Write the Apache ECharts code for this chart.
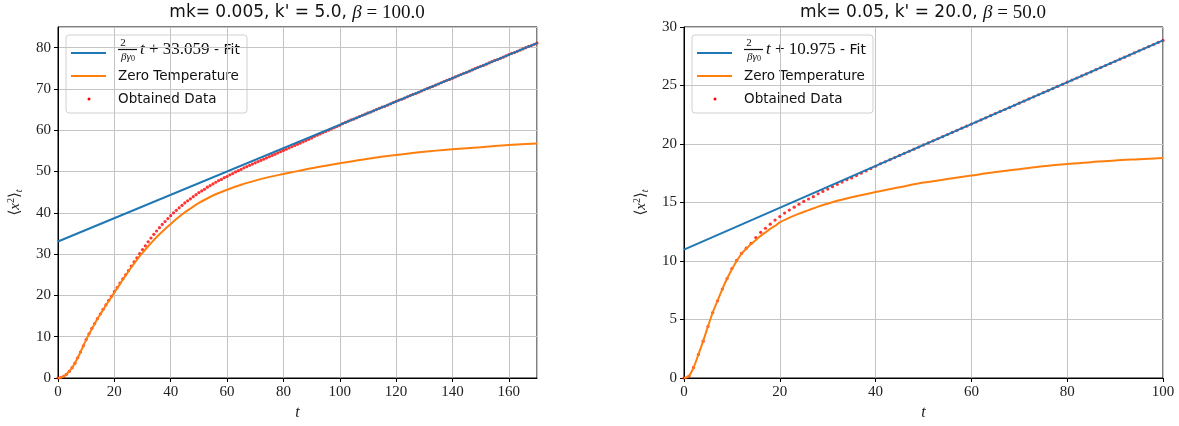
<!DOCTYPE html>
<html>
<head>
    <meta charset="utf-8">
    <title>x2 fits</title>
    <script src="https://cdn.jsdelivr.net/npm/echarts@6/dist/echarts.min.js"></script>
</head>
<body style="margin:0;background:#fff;">
    <div id="main" style="width:1179px;height:426px;"></div>
    <script type="text/javascript">
    // left panel: mk=0.005, k'=5.0, beta=100
    var fitLeftT = [0, 170];
    var fitLeftY = [33.059, 81.1];
    var zeroLeftT = [0, 1, 2, 3, 4, 5, 6, 7, 8, 9, 10, 11, 12, 13, 14, 15, 16, 17, 18, 19, 20,
        21, 22, 23, 24, 25, 26, 27, 28, 29, 30, 32, 34, 36, 38, 40, 42, 44, 46, 48, 50,
        55, 60, 65, 70, 75, 80, 85, 90, 95, 100, 110, 120, 130, 140, 150, 160, 170];
    var zeroLeftY = [0, 0.1, 0.4, 0.9, 1.6, 2.5, 3.6, 4.9, 6.3, 7.8, 9.3, 10.6, 11.9, 13.1, 14.3, 15.4, 16.5, 17.6, 18.6, 19.7, 20.7,
        21.7, 22.8, 23.8, 24.8, 25.8, 26.8, 27.7, 28.6, 29.5, 30.3, 31.9, 33.4, 34.8, 36.1, 37.3, 38.5, 39.6, 40.6, 41.5, 42.4,
        44.2, 45.6, 46.8, 47.8, 48.7, 49.4, 50.1, 50.8, 51.4, 52.0, 53.1, 54.0, 54.8, 55.4, 55.9, 56.4, 56.8];
    // obtained data, one point per unit of t starting at t=0
    var obsLeftY = [0, 0.1, 0.4, 0.9, 1.6, 2.5, 3.6, 4.9, 6.3, 7.8, 9.3, 10.7, 12.0, 13.2, 14.4, 15.5, 16.6, 17.7, 18.8, 19.8,
        20.9, 21.9, 23.0, 24.0, 25.0, 26.0, 27.1, 28.1, 29.1, 30.1, 31.1, 32.0, 33.0, 33.9, 34.8, 35.6, 36.4, 37.2, 37.9, 38.6,
        39.3, 40.0, 40.6, 41.2, 41.8, 42.4, 42.9, 43.4, 43.9, 44.4, 44.9, 45.3, 45.7, 46.2, 46.6, 47.0, 47.4, 47.8, 48.1, 48.5,
        48.8, 49.2, 49.5, 49.9, 50.2, 50.5, 50.9, 51.2, 51.5, 51.8, 52.1, 52.4, 52.7, 53.0, 53.3, 53.6, 53.9, 54.2, 54.5, 54.8,
        55.1, 55.4, 55.7, 56.0, 56.3, 56.6, 56.9, 57.2, 57.5, 57.8, 58.1, 58.5, 58.8, 59.1, 59.4, 59.7, 60.0, 60.3, 60.6, 60.9,
        61.2, 61.6, 61.9, 62.2, 62.5, 62.7, 63.0, 63.3, 63.6, 63.9, 64.2, 64.4, 64.7, 65.0, 65.3, 65.6, 65.8, 66.1, 66.4, 66.7,
        67.0, 67.3, 67.5, 67.8, 68.1, 68.4, 68.7, 68.9, 69.2, 69.5, 69.8, 70.1, 70.4, 70.6, 70.9, 71.2, 71.5, 71.8, 72.1, 72.3,
        72.6, 72.9, 73.2, 73.5, 73.8, 74.0, 74.3, 74.6, 74.9, 75.2, 75.5, 75.7, 76.0, 76.3, 76.6, 76.9, 77.1, 77.4, 77.7, 78.0,
        78.3, 78.6, 78.8, 79.1, 79.4, 79.7, 80.0, 80.3, 80.5, 80.8, 81.1];

    // right panel: mk=0.05, k'=20.0, beta=50
    var fitRightT = [0, 100];
    var fitRightY = [10.975, 28.85];
    var zeroRightT = [0, 1, 2, 3, 4, 5, 6, 7, 8, 9, 10, 11, 12, 13, 14, 15, 16, 17, 18, 19, 20,
        22, 24, 26, 28, 30, 32, 35, 40, 45, 50, 55, 60, 65, 70, 75, 80, 85, 90, 95, 100];
    var zeroRightY = [0, 0.15, 0.9, 2.0, 3.15, 4.4, 5.6, 6.6, 7.6, 8.5, 9.3, 10.0, 10.6, 11.05, 11.45, 11.8, 12.15, 12.45, 12.75, 13.0, 13.3,
        13.7, 14.05, 14.35, 14.65, 14.9, 15.15, 15.45, 15.9, 16.3, 16.7, 17.0, 17.3, 17.6, 17.85, 18.1, 18.3, 18.45, 18.6, 18.7, 18.8];
    var obsRightY = [0, 0.15, 0.9, 2.0, 3.15, 4.4, 5.6, 6.6, 7.6, 8.5, 9.35, 10.05, 10.65, 11.1, 11.5, 12.0, 12.45, 12.8, 13.15, 13.5,
        13.8, 14.1, 14.35, 14.6, 14.85, 15.1, 15.3, 15.5, 15.75, 15.95, 16.15, 16.35, 16.55, 16.75, 16.95, 17.1, 17.3, 17.5, 17.7, 17.9,
        18.1, 18.31, 18.48, 18.66, 18.84, 19.02, 19.2, 19.38, 19.56, 19.74, 19.92, 20.09, 20.27, 20.45, 20.63, 20.81, 20.99, 21.17, 21.35, 21.52,
        21.7, 21.88, 22.06, 22.24, 22.42, 22.6, 22.78, 22.95, 23.13, 23.31, 23.49, 23.67, 23.85, 24.03, 24.21, 24.39, 24.56, 24.74, 24.92, 25.1,
        25.28, 25.46, 25.64, 25.82, 25.99, 26.17, 26.35, 26.53, 26.71, 26.89, 27.07, 27.25, 27.42, 27.6, 27.78, 27.96, 28.14, 28.32, 28.5, 28.68,
        28.85];

    var titles = [
        ['mk= 0.005, k\' = 5.0, ', '100.0'],
        ['mk= 0.05, k\' = 20.0, ', '50.0']
    ];
    var fitConsts = ['33.059', '10.975'];

    var SERIF = '"Liberation Serif", "DejaVu Serif", serif';
    var SANS = '"DejaVu Sans", sans-serif';
    var BLUE = '#1f77b4', ORANGE = '#ff7f0e';

    function pairs(xs, ys) {
        return xs.map(function(x, i) { return [x, ys[i]]; });
    }
    function indexed(ys) {
        return ys.map(function(y, i) { return [i, y]; });
    }

    function axisCommon() {
        return {
            type: 'value',
            axisLine: { show: true, onZero: false, lineStyle: { color: '#000', width: 1 } },
            axisTick: { show: true, length: 4, lineStyle: { color: '#000' } },
            axisLabel: { color: '#222', fontFamily: SERIF, fontSize: 15, margin: 7 },
            splitLine: { show: true, lineStyle: { color: '#c4c4c4', width: 1 } }
        };
    }
    function xAx(gi, max, showMax) {
        var a = axisCommon();
        a.gridIndex = gi; a.min = 0; a.max = max; a.interval = 20;
        a.axisLabel.showMaxLabel = showMax;
        a.name = 't';
        a.nameLocation = 'middle';
        a.nameGap = 27;
        a.nameTextStyle = { fontFamily: SERIF, fontStyle: 'italic', fontSize: 16, color: '#222' };
        return a;
    }
    function yAx(gi, max, step, showMax) {
        var a = axisCommon();
        a.gridIndex = gi; a.min = 0; a.max = max; a.interval = step;
        a.axisLabel.showMaxLabel = showMax;
        a.name = '{n|\u27E8}{i|x}{p|2}{n|\u27E9}{s|t}';
        a.nameLocation = 'middle';
        a.nameRotate = 90;
        a.nameGap = 34;
        a.nameTextStyle = {
            color: '#222',
            rich: {
                n: { fontFamily: SERIF, fontSize: 15, color: '#222' },
                i: { fontFamily: SERIF, fontStyle: 'italic', fontSize: 15, color: '#222' },
                p: { fontFamily: SERIF, fontSize: 10, verticalAlign: 'top', padding: [0, 0, 6, 0], color: '#222' },
                s: { fontFamily: SERIF, fontStyle: 'italic', fontSize: 10, padding: [8, 0, 0, 0], color: '#222' }
            }
        };
        return a;
    }

    function lineSeries(name, xi, data, color) {
        return {
            name: name, type: 'line', xAxisIndex: xi, yAxisIndex: xi,
            data: data, showSymbol: false, smooth: 0.3, silent: true,
            lineStyle: { color: color, width: 2 }
        };
    }
    function dotSeries(xi, data) {
        return {
            name: 'Obtained Data', type: 'scatter', xAxisIndex: xi, yAxisIndex: xi,
            data: data, symbol: 'circle', symbolSize: 3.2, silent: true,
            itemStyle: { color: '#ff0000' }
        };
    }

    function titleText(cx, parts) {
        return {
            type: 'text', x: cx, y: 13,
            style: {
                text: '{a|' + parts[0] + '}{b|\u03B2}{c| = ' + parts[1] + '}',
                align: 'center', verticalAlign: 'middle',
                rich: {
                    a: { fontFamily: SANS, fontSize: 17, fill: '#111' },
                    b: { fontFamily: SERIF, fontStyle: 'italic', fontSize: 19, fill: '#111' },
                    c: { fontFamily: SERIF, fontSize: 19, fill: '#111' }
                }
            }
        };
    }

    function legendBox(x0, c) {
        var y1 = 53, y2 = 76, y3 = 99;
        return {
            type: 'group', z: 100,
            children: [
                { type: 'rect', shape: { x: x0, y: 35, width: 181, height: 78, r: 3 },
                  style: { fill: 'rgba(255,255,255,0.85)', stroke: '#d0d0d0', lineWidth: 1 } },
                { type: 'line', shape: { x1: x0 + 5, y1: y1, x2: x0 + 40, y2: y1 }, style: { stroke: BLUE, lineWidth: 2 } },
                { type: 'text', x: x0 + 57, y: 43, style: { text: '2', align: 'center', verticalAlign: 'middle', fontFamily: SERIF, fontSize: 11, fill: '#111' } },
                { type: 'line', shape: { x1: x0 + 52, y1: 49.5, x2: x0 + 71, y2: 49.5 }, style: { stroke: '#111', lineWidth: 1.2 } },
                { type: 'text', x: x0 + 62, y: 57, style: {
                    text: '{i|\u03B2\u03B3}{s|0}', align: 'center', verticalAlign: 'middle',
                    rich: {
                        i: { fontFamily: SERIF, fontStyle: 'italic', fontSize: 11, fill: '#111' },
                        s: { fontFamily: SERIF, fontSize: 8, padding: [4, 0, 0, 0], fill: '#111' }
                    } } },
                { type: 'text', x: x0 + 74, y: y1 - 3, style: {
                    text: '{i|t}{n| + ' + c + '}{f| - Fit}', verticalAlign: 'middle',
                    rich: {
                        i: { fontFamily: SERIF, fontStyle: 'italic', fontSize: 17, fill: '#111' },
                        n: { fontFamily: SERIF, fontSize: 17, fill: '#111' },
                        f: { fontFamily: SANS, fontSize: 14, fill: '#111' }
                    } } },
                { type: 'line', shape: { x1: x0 + 5, y1: y2, x2: x0 + 40, y2: y2 }, style: { stroke: ORANGE, lineWidth: 2 } },
                { type: 'text', x: x0 + 52, y: y2, style: { text: 'Zero Temperature', verticalAlign: 'middle', fontFamily: SANS, fontSize: 13.5, fill: '#111' } },
                { type: 'circle', shape: { cx: x0 + 23, cy: y3, r: 1.5 }, style: { fill: '#ff0000' } },
                { type: 'text', x: x0 + 52, y: y3, style: { text: 'Obtained Data', verticalAlign: 'middle', fontFamily: SANS, fontSize: 13.5, fill: '#111' } }
            ]
        };
    }

    var myChart = echarts.init(document.getElementById('main'));
    var option = {
        animation: false,
        backgroundColor: '#fff',
        grid: [
            { left: 58, top: 27, width: 479, height: 356, show: true, borderColor: '#000', borderWidth: 1, backgroundColor: 'transparent' },
            { left: 684, top: 27, width: 479, height: 356, show: true, borderColor: '#000', borderWidth: 1, backgroundColor: 'transparent' }
        ],
        xAxis: [xAx(0, 170, false), xAx(1, 100, true)],
        yAxis: [yAx(0, 85, 10, false), yAx(1, 30, 5, true)],
        series: [
            lineSeries('Fit', 0, pairs(fitLeftT, fitLeftY), BLUE),
            lineSeries('Zero Temperature', 0, pairs(zeroLeftT, zeroLeftY), ORANGE),
            dotSeries(0, indexed(obsLeftY)),
            lineSeries('Fit', 1, pairs(fitRightT, fitRightY), BLUE),
            lineSeries('Zero Temperature', 1, pairs(zeroRightT, zeroRightY), ORANGE),
            dotSeries(1, indexed(obsRightY))
        ],
        graphic: [
            titleText(297, titles[0]),
            titleText(923, titles[1]),
            legendBox(66, fitConsts[0]),
            legendBox(692, fitConsts[1])
        ]
    };
    myChart.setOption(option);
    </script>
</body>
</html>
